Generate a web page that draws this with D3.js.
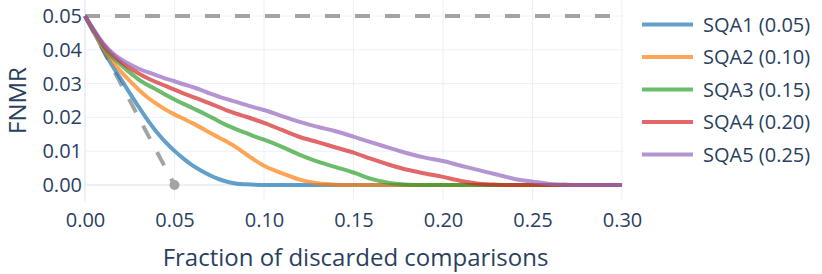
<!DOCTYPE html>
<html>
<head>
<meta charset="utf-8">
<script src="https://cdn.jsdelivr.net/npm/d3@7"></script>
<style>
  html, body { margin: 0; padding: 0; background: #fff; }
  svg { display: block; font-family: "Open Sans", sans-serif; }
</style>
</head>
<body>
<svg id="chart" width="822" height="274"></svg>
<script>
// ---- data ----
const xs = [0, 0.005, 0.01, 0.015, 0.02, 0.025, 0.03, 0.035, 0.04, 0.045, 0.05,
  0.055, 0.06, 0.065, 0.07, 0.075, 0.08, 0.085, 0.09, 0.095, 0.10,
  0.11, 0.12, 0.13, 0.14, 0.15, 0.16, 0.17, 0.18, 0.19, 0.20,
  0.21, 0.22, 0.23, 0.24, 0.25, 0.26, 0.27, 0.28, 0.29, 0.30];

const sqa1 = [0.05, 0.0452, 0.0401, 0.0355, 0.0314, 0.0272, 0.0231, 0.0192, 0.0157, 0.0127, 0.0101,
  0.0078, 0.0058, 0.0042, 0.0028, 0.0017, 0.0009, 0.0004, 0.0002, 0.00005, 0,
  0, 0, 0, 0, 0, 0, 0, 0, 0, 0,
  0, 0, 0, 0, 0, 0, 0, 0, 0, 0];
const sqa2 = [0.05, 0.0454, 0.0406, 0.0368, 0.0336, 0.0308, 0.0282, 0.0259, 0.0240, 0.0223, 0.0209,
  0.0196, 0.0183, 0.0169, 0.0154, 0.0140, 0.0126, 0.0110, 0.0091, 0.0073, 0.0057,
  0.0035, 0.0016, 0.0005, 0.0001, 0, 0, 0, 0, 0, 0,
  0, 0, 0, 0, 0, 0, 0, 0, 0, 0];
const sqa3 = [0.05, 0.0456, 0.0413, 0.0380, 0.0356, 0.0333, 0.0312, 0.0296, 0.0282, 0.0267, 0.0253,
  0.0240, 0.0228, 0.0215, 0.0202, 0.0188, 0.0175, 0.0164, 0.0154, 0.0143, 0.0134,
  0.0113, 0.0089, 0.0069, 0.0053, 0.0037, 0.0018, 0.0006, 0.0001, 0, 0,
  0, 0, 0, 0, 0, 0, 0, 0, 0, 0];
const sqa4 = [0.05, 0.0457, 0.0418, 0.0387, 0.0364, 0.0346, 0.0330, 0.0316, 0.0304, 0.0293, 0.0282,
  0.0271, 0.0261, 0.0251, 0.0241, 0.0230, 0.0219, 0.0210, 0.0202, 0.0193, 0.0184,
  0.0163, 0.0142, 0.0127, 0.0111, 0.0096, 0.0077, 0.0060, 0.0045, 0.0034, 0.0024,
  0.0012, 0.0004, 0.0001, 0, 0, 0, 0, 0, 0, 0];
const sqa5 = [0.05, 0.0458, 0.0420, 0.0392, 0.0372, 0.0357, 0.0344, 0.0334, 0.0324, 0.0315, 0.0307,
  0.0298, 0.0290, 0.0281, 0.0270, 0.0261, 0.0253, 0.0245, 0.0237, 0.0229, 0.0222,
  0.0204, 0.0187, 0.0172, 0.0159, 0.0143, 0.0126, 0.0110, 0.0094, 0.0081, 0.0071,
  0.0057, 0.0044, 0.0031, 0.0018, 0.0010, 0.0003, 0.0001, 0, 0, 0];

const seriesNames = ["SQA1 (0.05)", "SQA2 (0.10)", "SQA3 (0.15)", "SQA4 (0.20)", "SQA5 (0.25)"];
const seriesValues = [sqa1, sqa2, sqa3, sqa4, sqa5];
const seriesColors = ["#1f77b4", "#ff7f0e", "#2ca02c", "#d62728", "#9467bd"];

const xTicks = [0, 0.05, 0.10, 0.15, 0.20, 0.25, 0.30];
const yTicks = [0, 0.01, 0.02, 0.03, 0.04, 0.05];

// reference lines
const limitX = [0, 0.30], limitY = [0.05, 0.05];
const idealX = [0, 0.05], idealY = [0.05, 0];
const idealPointX = [0.05], idealPointY = [0];

const xTitle = "Fraction of discarded comparisons";
const yTitle = "FNMR";

// ---- layout ----
const plotLeft = 85, plotRight = 622, plotTop = 0, plotBottom = 201;
const textColor = "#2a3f5f", gridColor = "#EBF0F8", refColor = "#a3a3a3";

const svg = d3.select("#chart");
const x = d3.scaleLinear().domain([0, 0.30]).range([plotLeft, plotRight]);
const y = d3.scaleLinear().domain([0, 0.05]).range([185, 16]);

// grid
svg.append("g").selectAll("line").data(xTicks.slice(1)).join("line")
  .attr("x1", d => x(d)).attr("x2", d => x(d))
  .attr("y1", plotTop).attr("y2", plotBottom)
  .attr("stroke", gridColor).attr("stroke-width", 1);
svg.append("g").selectAll("line").data(yTicks.slice(1)).join("line")
  .attr("x1", plotLeft).attr("x2", plotRight + 1)
  .attr("y1", d => y(d)).attr("y2", d => y(d))
  .attr("stroke", gridColor).attr("stroke-width", 1);
// zero lines
svg.append("line").attr("x1", x(0)).attr("x2", x(0)).attr("y1", plotTop).attr("y2", plotBottom)
  .attr("stroke", gridColor).attr("stroke-width", 2);
svg.append("line").attr("x1", plotLeft).attr("x2", plotRight + 1).attr("y1", y(0)).attr("y2", y(0))
  .attr("stroke", gridColor).attr("stroke-width", 2);

// axes
const xAxis = svg.append("g").attr("transform", `translate(0,${plotBottom})`)
  .call(d3.axisBottom(x).tickValues(xTicks).tickFormat(d3.format(".2f")).tickSize(0).tickPadding(12));
const yAxis = svg.append("g").attr("transform", `translate(${plotLeft - 3},0)`)
  .call(d3.axisLeft(y).tickValues(yTicks).tickFormat(d3.format(".2f")).tickSize(0).tickPadding(0));
[xAxis, yAxis].forEach(a => {
  a.select(".domain").remove();
  a.selectAll("text").attr("fill", textColor).style("font-size", "20px").style("font-family", "'Open Sans', sans-serif");
});

// reference lines
const line = d3.line().x(d => x(d[0])).y(d => y(d[1]));
svg.append("path").attr("d", line(d3.zip(limitX, limitY)))
  .attr("fill", "none").attr("stroke", refColor).attr("stroke-width", 4).attr("stroke-dasharray", "15,15");
svg.append("path").attr("d", line(d3.zip(idealX, idealY)))
  .attr("fill", "none").attr("stroke", refColor).attr("stroke-width", 4).attr("stroke-dasharray", "15,15")
  .attr("stroke-dashoffset", -4);
svg.append("g").selectAll("circle").data(d3.zip(idealPointX, idealPointY)).join("circle")
  .attr("cx", d => x(d[0])).attr("cy", d => y(d[1])).attr("r", 5).attr("fill", refColor);

// curves
const curve = d3.line().x(d => x(d[0])).y(d => y(d[1])).curve(d3.curveMonotoneX);
seriesValues.forEach((vals, i) => {
  svg.append("path").attr("d", curve(d3.zip(xs, vals)))
    .attr("fill", "none").attr("stroke", seriesColors[i]).attr("stroke-width", 4)
    .attr("stroke-opacity", 0.7).attr("stroke-linejoin", "round");
});

// legend
const legendY0 = 24.5, legendStep = 32.5;
const lg = svg.append("g");
seriesNames.forEach((name, i) => {
  const ly = legendY0 + i * legendStep;
  lg.append("line").attr("x1", 642).attr("x2", 693).attr("y1", ly).attr("y2", ly)
    .attr("stroke", seriesColors[i]).attr("stroke-width", 4).attr("stroke-opacity", 0.7);
  lg.append("text").attr("x", 703).attr("y", ly).attr("dy", "0.35em")
    .attr("fill", textColor).style("font-size", "20px").text(name);
});

// titles
svg.append("text").attr("x", (plotLeft + plotRight) / 2 + 2).attr("y", 266)
  .attr("text-anchor", "middle").attr("fill", textColor).style("font-size", "24px").text(xTitle);
svg.append("text").attr("transform", `translate(26,${(plotTop + plotBottom) / 2}) rotate(-90)`)
  .attr("text-anchor", "middle").attr("fill", textColor)
  .style("font-size", "24px").text(yTitle);
</script>
</body>
</html>
